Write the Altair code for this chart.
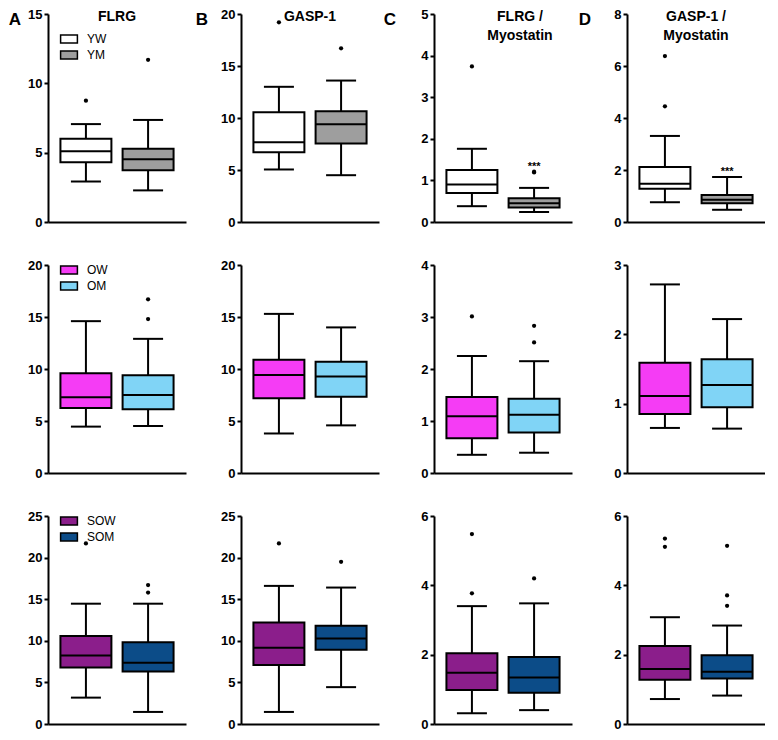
import altair as alt
import pandas as pd

# ---------------- data ----------------
groups = [["YW", "YM"], ["OW", "OM"], ["SOW", "SOM"]]
group_colors = [["#ffffff", "#9e9e9e"], ["#f53cf5", "#80d4f6"], ["#8b1e8b", "#0c4c88"]]
measures = ["FLRG", "GASP-1", "FLRG / Myostatin", "GASP-1 / Myostatin"]
panel_letters = ["A", "B", "C", "D"]
panel_titles = ["FLRG", "GASP-1", "FLRG /\nMyostatin", "GASP-1 /\nMyostatin"]

# order inside each list: YW, YM, OW, OM, SOW, SOM
whisker_low = {
    "FLRG": [2.92, 2.28, 4.46, 4.52, 3.17, 1.45],
    "GASP-1": [5.05, 4.5, 3.8, 4.58, 1.45, 4.43],
    "FLRG / Myostatin": [0.38, 0.24, 0.35, 0.39, 0.31, 0.40],
    "GASP-1 / Myostatin": [0.76, 0.47, 0.65, 0.64, 0.72, 0.82],
}
q1 = {
    "FLRG": [4.3, 3.74, 6.25, 6.12, 6.78, 6.31],
    "GASP-1": [6.7, 7.55, 7.19, 7.32, 7.09, 8.93],
    "FLRG / Myostatin": [0.70, 0.35, 0.67, 0.78, 0.98, 0.90],
    "GASP-1 / Myostatin": [1.28, 0.72, 0.85, 0.95, 1.28, 1.31],
}
median = {
    "FLRG": [5.1, 4.52, 7.28, 7.5, 8.23, 7.37],
    "GASP-1": [7.68, 9.4, 9.42, 9.29, 9.17, 10.27],
    "FLRG / Myostatin": [0.90, 0.45, 1.09, 1.12, 1.48, 1.34],
    "GASP-1 / Myostatin": [1.47, 0.86, 1.11, 1.27, 1.59, 1.51],
}
q3 = {
    "FLRG": [6.0, 5.29, 9.6, 9.4, 10.58, 9.84],
    "GASP-1": [10.55, 10.65, 10.9, 10.7, 12.2, 11.8],
    "FLRG / Myostatin": [1.25, 0.57, 1.46, 1.43, 2.04, 1.93],
    "GASP-1 / Myostatin": [2.12, 1.04, 1.59, 1.64, 2.25, 1.98],
}
whisker_high = {
    "FLRG": [7.06, 7.36, 14.6, 12.9, 14.46, 14.46],
    "GASP-1": [13.0, 13.6, 15.3, 14.0, 16.6, 16.4],
    "FLRG / Myostatin": [1.76, 0.82, 2.25, 2.15, 3.40, 3.48],
    "GASP-1 / Myostatin": [3.31, 1.73, 2.72, 2.22, 3.08, 2.84],
}
outliers = {
    "FLRG": {"YW": [8.75], "YM": [11.7], "OM": [14.8, 16.7], "SOW": [21.7], "SOM": [15.8, 16.7]},
    "GASP-1": {"YW": [19.2], "YM": [16.7], "SOW": [21.7], "SOM": [19.5]},
    "FLRG / Myostatin": {"YW": [3.74], "YM": [1.19, 1.21], "OW": [3.01], "OM": [2.51, 2.83],
                         "SOW": [3.77, 5.48], "SOM": [4.2]},
    "GASP-1 / Myostatin": {"YW": [4.45, 6.38], "SOW": [5.11, 5.35], "SOM": [3.41, 3.71, 5.14]},
}
y_max = {"FLRG": [15, 20, 25], "GASP-1": [20, 20, 25],
         "FLRG / Myostatin": [5, 4, 6], "GASP-1 / Myostatin": [8, 3, 6]}
y_step = {"FLRG": [5, 5, 5], "GASP-1": [5, 5, 5],
          "FLRG / Myostatin": [1, 1, 2], "GASP-1 / Myostatin": [2, 1, 2]}
significance = {("FLRG / Myostatin", "YM"): 1.4, ("GASP-1 / Myostatin", "YM"): 2.02}

# ---------------- layout / style ----------------
W, H = 138, 208
BOXW, CAPW = 51, 30
FONT = "Liberation Sans"
title_dx = [0, 0, 17, 0]
letter_x = [-33, -39, -44, -42]
legend_y = [18, -2, -2]


def panel(r, c):
    m = measures[c]
    g = groups[r]
    idx = [2 * r, 2 * r + 1]
    df = pd.DataFrame({
        "group": g,
        "low": [whisker_low[m][i] for i in idx],
        "q1": [q1[m][i] for i in idx],
        "median": [median[m][i] for i in idx],
        "q3": [q3[m][i] for i in idx],
        "high": [whisker_high[m][i] for i in idx],
    })
    odf = pd.DataFrame([{"group": k, "value": v} for k in g for v in outliers[m].get(k, [])])

    x_axis = alt.Axis(title=None, labels=False, ticks=False, domainColor="black", domainWidth=2, grid=False)
    x = alt.X("group:N", sort=g, scale=alt.Scale(domain=g, paddingInner=0.18, paddingOuter=0.2), axis=x_axis)
    ymax, step = y_max[m][r], y_step[m][r]
    y_scale = alt.Scale(domain=[0, ymax], nice=False)
    y_axis = alt.Axis(values=list(range(0, ymax + 1, step)), title=None, grid=False,
                      domainColor="black", domainWidth=2, tickColor="black", tickWidth=2, tickSize=4,
                      labelFont=FONT, labelFontSize=13, labelFontWeight="bold", labelColor="black",
                      labelPadding=2)

    def Y(f):
        return alt.Y(f, scale=y_scale, axis=y_axis, title=None)

    base = alt.Chart(df).encode(x=x)
    if c == 0:
        legend = alt.Legend(title=None, orient="none", legendX=14, legendY=legend_y[r],
                            symbolType="M-1.4,-0.67H1.4V0.67H-1.4Z", symbolSize=144,
                            symbolStrokeColor="black", symbolStrokeWidth=1.5, symbolOpacity=1,
                            labelFont=FONT, labelFontSize=12, labelColor="black", labelOffset=11,
                            rowPadding=0, padding=0)
    else:
        legend = None
    whisk = base.mark_rule(color="black", strokeWidth=2).encode(y=Y("low:Q"), y2="high:Q")
    box = base.mark_bar(stroke="black", strokeWidth=2, opacity=1).encode(
        y=Y("q1:Q"), y2="q3:Q",
        color=alt.Color("group:N", scale=alt.Scale(domain=g, range=group_colors[r]), legend=legend))
    med = base.mark_tick(color="black", thickness=2, size=BOXW, opacity=1).encode(y=Y("median:Q"))
    cap_lo = base.mark_tick(color="black", thickness=2, size=CAPW, opacity=1).encode(y=Y("low:Q"))
    cap_hi = base.mark_tick(color="black", thickness=2, size=CAPW, opacity=1).encode(y=Y("high:Q"))
    layers = [whisk, box, med, cap_lo, cap_hi]
    if len(odf):
        layers.append(alt.Chart(odf).mark_circle(color="black", size=18, opacity=1).encode(x=x, y=Y("value:Q")))
    sig = [{"group": k, "value": significance[(m, k)], "label": "***"} for k in g if (m, k) in significance]
    if sig:
        layers.append(alt.Chart(pd.DataFrame(sig)).mark_text(
            font=FONT, fontSize=11, fontWeight="bold", color="black", baseline="middle", dy=3
        ).encode(x=x, y=Y("value:Q"), text="label:N"))
    if r == 0:
        layers.append(alt.Chart(pd.DataFrame({"t": [panel_titles[c]]})).mark_text(
            font=FONT, fontSize=14, fontWeight="bold", color="black", align="center",
            baseline="alphabetic", lineBreak="\n", lineHeight=19
        ).encode(text="t:N", x=alt.value(W / 2 + title_dx[c]), y=alt.value(7)))
        layers.append(alt.Chart(pd.DataFrame({"t": [panel_letters[c]]})).mark_text(
            font=FONT, fontSize=17, fontWeight="bold", color="black", align="center",
            baseline="alphabetic"
        ).encode(text="t:N", x=alt.value(letter_x[c]), y=alt.value(11)))
    return alt.layer(*layers).properties(width=W, height=H)


panels = [panel(r, c) for r in range(3) for c in range(4)]
chart = alt.concat(*panels, columns=4, spacing={"row": 43, "column": 55}, bounds="flush").resolve_scale(
    color="independent", x="independent", y="independent"
).properties(padding=0, background="white").configure(
    font=FONT
).configure_view(
    stroke="transparent", strokeWidth=0
)

chart.save("out.html", embed_options={"renderer": "svg", "actions": False})
